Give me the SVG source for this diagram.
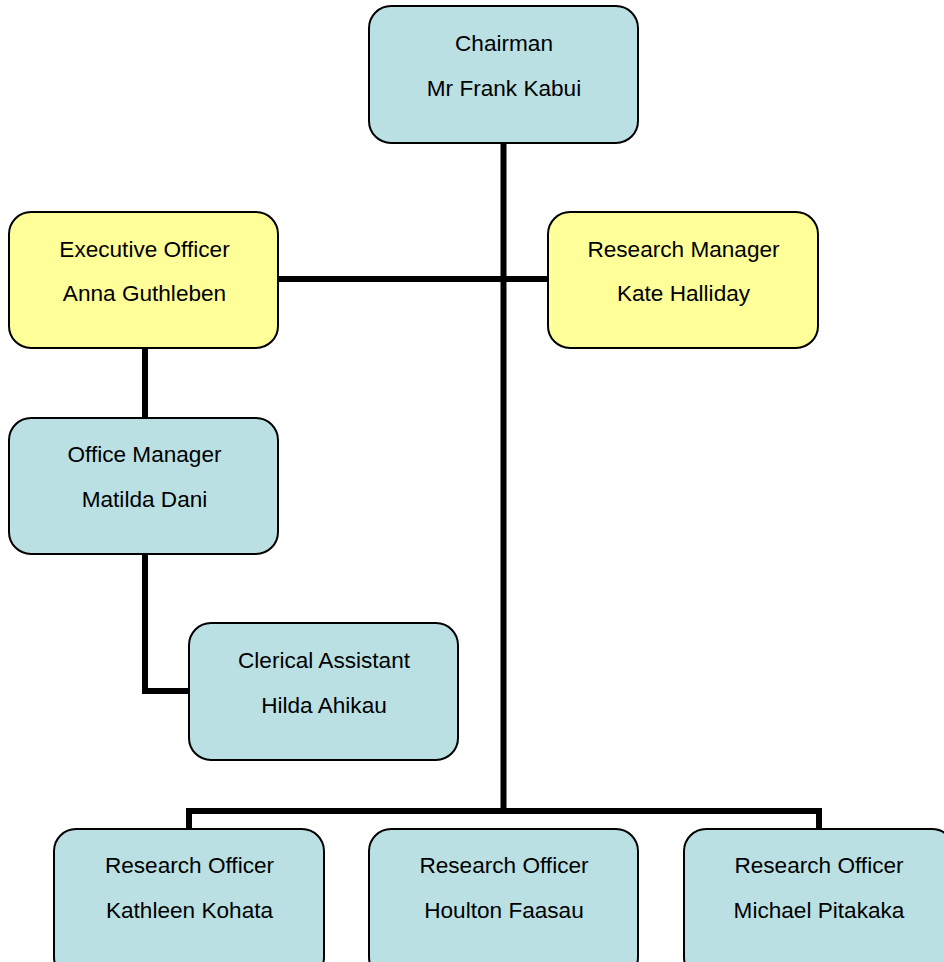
<svg xmlns="http://www.w3.org/2000/svg" width="944" height="962" viewBox="0 0 944 962">
<style>
.box{stroke:#000;stroke-width:2}
.blue{fill:#BAE0E3}
.yellow{fill:#FFFF99}
.t{font-family:"Liberation Sans",Arial,sans-serif;font-size:22.6px;fill:#000;text-anchor:middle}
.c{fill:none;stroke:#000;stroke-width:6;stroke-linecap:butt;stroke-linejoin:miter}
</style>
<rect width="944" height="962" fill="#fff"/>
<g id="connectors">
<path class="c" d="M503.5 143 V811"/>
<path class="c" d="M278 279 H548"/>
<path class="c" d="M145 348 V418"/>
<path class="c" d="M145 554 V691 H189"/>
<path class="c" d="M189 829 V811 H819 V829"/>
</g>
<g id="chairman">
<rect class="box blue" x="369" y="6" width="269" height="137" rx="22"/>
<text class="t" x="504" y="51">Chairman</text>
<text class="t" x="504" y="96">Mr Frank Kabui</text>
</g>
<g id="exec">
<rect class="box yellow" x="9" y="212" width="269" height="136" rx="22"/>
<text class="t" x="144.5" y="257">Executive Officer</text>
<text class="t" x="144.5" y="301">Anna Guthleben</text>
</g>
<g id="resmgr">
<rect class="box yellow" x="548" y="212" width="270" height="136" rx="22"/>
<text class="t" x="683.5" y="257">Research Manager</text>
<text class="t" x="683.5" y="301">Kate Halliday</text>
</g>
<g id="officemgr">
<rect class="box blue" x="9" y="418" width="269" height="136" rx="22"/>
<text class="t" x="144.5" y="462">Office Manager</text>
<text class="t" x="144.5" y="507">Matilda Dani</text>
</g>
<g id="clerical">
<rect class="box blue" x="189" y="623" width="269" height="137" rx="22"/>
<text class="t" x="324" y="668">Clerical Assistant</text>
<text class="t" x="324" y="713">Hilda Ahikau</text>
</g>
<g id="ro1">
<rect class="box blue" x="54" y="829" width="270" height="150" rx="22"/>
<text class="t" x="189.5" y="873">Research Officer</text>
<text class="t" x="189.5" y="918">Kathleen Kohata</text>
</g>
<g id="ro2">
<rect class="box blue" x="369" y="829" width="269" height="150" rx="22"/>
<text class="t" x="504" y="873">Research Officer</text>
<text class="t" x="504" y="918">Houlton Faasau</text>
</g>
<g id="ro3">
<rect class="box blue" x="684" y="829" width="270" height="150" rx="22"/>
<text class="t" x="819" y="873">Research Officer</text>
<text class="t" x="819" y="918">Michael Pitakaka</text>
</g>
</svg>
